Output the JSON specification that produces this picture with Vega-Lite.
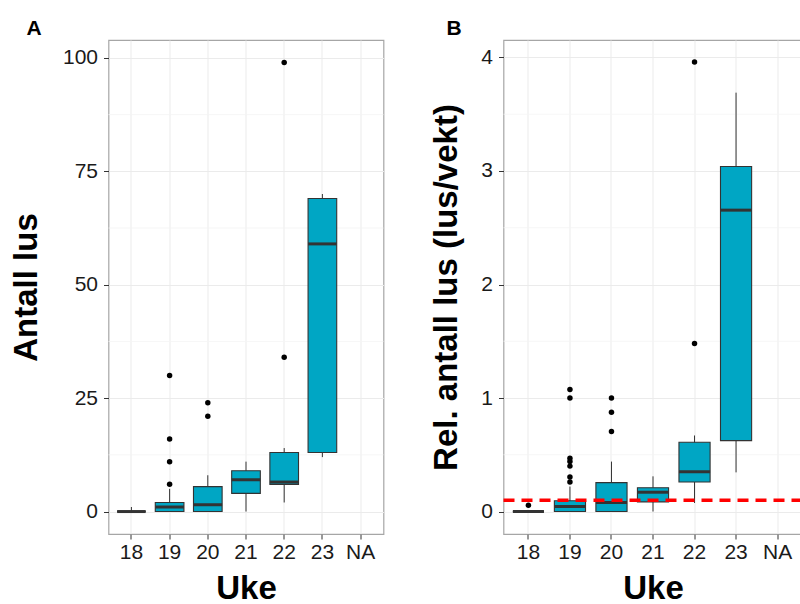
{
  "$schema": "https://vega.github.io/schema/vega-lite/v6.json",
  "autosize": "none",
  "padding": {"left": 108.5, "top": 40, "right": 691.5, "bottom": 564},
  "background": "white",
  "bounds": "flush",
  "spacing": 120,
  "datasets": {
    "boxA": [
      {"uke": "18", "lower": 0, "q1": 0, "median": 0, "q3": 0, "upper": 1},
      {"uke": "19", "lower": 0, "q1": 0, "median": 1, "q3": 2, "upper": 5},
      {"uke": "20", "lower": 0, "q1": 0, "median": 1.5, "q3": 5.5, "upper": 8},
      {"uke": "21", "lower": 0, "q1": 4, "median": 7, "q3": 9, "upper": 11},
      {"uke": "22", "lower": 2, "q1": 6, "median": 6.5, "q3": 13, "upper": 14},
      {"uke": "23", "lower": 12, "q1": 13, "median": 59, "q3": 69, "upper": 70}
    ],
    "outA": [
      {"uke": "19", "value": 6}, {"uke": "19", "value": 11}, {"uke": "19", "value": 16}, {"uke": "19", "value": 30},
      {"uke": "20", "value": 21}, {"uke": "20", "value": 24},
      {"uke": "22", "value": 34}, {"uke": "22", "value": 99}
    ],
    "minorA": [{"v": 12.5}, {"v": 37.5}, {"v": 62.5}, {"v": 87.5}],
    "boxB": [
      {"uke": "18", "lower": 0, "q1": 0, "median": 0, "q3": 0, "upper": 0},
      {"uke": "19", "lower": 0, "q1": 0, "median": 0.045, "q3": 0.095, "upper": 0.22},
      {"uke": "20", "lower": 0, "q1": 0, "median": 0.08, "q3": 0.255, "upper": 0.44},
      {"uke": "21", "lower": 0, "q1": 0.085, "median": 0.17, "q3": 0.21, "upper": 0.31},
      {"uke": "22", "lower": 0.075, "q1": 0.26, "median": 0.35, "q3": 0.61, "upper": 0.67},
      {"uke": "23", "lower": 0.345, "q1": 0.625, "median": 2.655, "q3": 3.04, "upper": 3.69}
    ],
    "outB": [
      {"uke": "18", "value": 0.055},
      {"uke": "19", "value": 0.26}, {"uke": "19", "value": 0.305}, {"uke": "19", "value": 0.4}, {"uke": "19", "value": 0.44}, {"uke": "19", "value": 0.47}, {"uke": "19", "value": 1.0}, {"uke": "19", "value": 1.075},
      {"uke": "20", "value": 0.705}, {"uke": "20", "value": 0.875}, {"uke": "20", "value": 1.0},
      {"uke": "22", "value": 1.48}, {"uke": "22", "value": 3.96}
    ],
    "minorB": [{"v": 0.5}, {"v": 1.5}, {"v": 2.5}, {"v": 3.5}],
    "threshold": [{"grense": 0.1}]
  },
  "hconcat": [
    {
      "width": 275,
      "height": 494,
      "title": {"text": "A", "anchor": "start", "frame": "group", "dx": -82, "offset": -16, "fontSize": 21, "fontWeight": "bold", "baseline": "alphabetic", "color": "black"},
      "layer": [
        {
          "data": {"name": "minorA"},
          "mark": {"type": "rule", "color": "#f4f4f4", "strokeWidth": 0.8},
          "encoding": {
            "y": {"field": "v", "type": "quantitative", "scale": {"domain": [-4.95, 103.95], "nice": false, "zero": false}}
          }
        },
        {
          "data": {"name": "boxA"},
          "mark": {"type": "rule", "color": "#333333", "strokeWidth": 1},
          "encoding": {
            "x": {"field": "uke", "type": "nominal", "scale": {"domain": ["18", "19", "20", "21", "22", "23", "NA"], "paddingInner": 0, "paddingOuter": 0.1},
                  "axis": {"title": "Uke", "grid": true, "bandPosition": 0.5}},
            "y": {"field": "lower", "type": "quantitative", "scale": {"domain": [-4.95, 103.95], "nice": false, "zero": false},
                  "axis": {"title": "Antall lus", "values": [0, 25, 50, 75, 100], "format": "d", "titleX": -72, "titleY": 247}},
            "y2": {"field": "upper"}
          }
        },
        {
          "data": {"name": "boxA"},
          "mark": {"type": "bar", "fill": "#00A6C4", "stroke": "#333333", "strokeWidth": 1.1, "width": {"band": 0.75}},
          "encoding": {
            "x": {"field": "uke", "type": "nominal"},
            "y": {"field": "q1", "type": "quantitative"},
            "y2": {"field": "q3"}
          }
        },
        {
          "data": {"name": "boxA"},
          "mark": {"type": "tick", "color": "#333333", "thickness": 3, "size": 28.6, "opacity": 1},
          "encoding": {
            "x": {"field": "uke", "type": "nominal"},
            "y": {"field": "median", "type": "quantitative"}
          }
        },
        {
          "data": {"name": "outA"},
          "mark": {"type": "point", "filled": true, "color": "black", "size": 30, "opacity": 1},
          "encoding": {
            "x": {"field": "uke", "type": "nominal"},
            "y": {"field": "value", "type": "quantitative"}
          }
        }
      ]
    },
    {
      "width": 299,
      "height": 494,
      "title": {"text": "B", "anchor": "start", "frame": "group", "dx": -57, "offset": -16, "fontSize": 21, "fontWeight": "bold", "baseline": "alphabetic", "color": "black"},
      "layer": [
        {
          "data": {"name": "minorB"},
          "mark": {"type": "rule", "color": "#f4f4f4", "strokeWidth": 0.8},
          "encoding": {
            "y": {"field": "v", "type": "quantitative", "scale": {"domain": [-0.198, 4.154], "nice": false, "zero": false}}
          }
        },
        {
          "data": {"name": "boxB"},
          "mark": {"type": "rule", "color": "#333333", "strokeWidth": 1},
          "encoding": {
            "x": {"field": "uke", "type": "nominal", "scale": {"domain": ["18", "19", "20", "21", "22", "23", "NA"], "paddingInner": 0, "paddingOuter": 0.1},
                  "axis": {"title": "Uke", "grid": true, "bandPosition": 0.5}},
            "y": {"field": "lower", "type": "quantitative", "scale": {"domain": [-0.198, 4.154], "nice": false, "zero": false},
                  "axis": {"title": "Rel. antall lus (lus/vekt)", "values": [0, 1, 2, 3, 4], "format": "d", "titleX": -47, "titleY": 247}},
            "y2": {"field": "upper"}
          }
        },
        {
          "data": {"name": "boxB"},
          "mark": {"type": "bar", "fill": "#00A6C4", "stroke": "#333333", "strokeWidth": 1.1, "width": {"band": 0.75}},
          "encoding": {
            "x": {"field": "uke", "type": "nominal"},
            "y": {"field": "q1", "type": "quantitative"},
            "y2": {"field": "q3"}
          }
        },
        {
          "data": {"name": "boxB"},
          "mark": {"type": "tick", "color": "#333333", "thickness": 3, "size": 31.1, "opacity": 1},
          "encoding": {
            "x": {"field": "uke", "type": "nominal"},
            "y": {"field": "median", "type": "quantitative"}
          }
        },
        {
          "data": {"name": "outB"},
          "mark": {"type": "point", "filled": true, "color": "black", "size": 30, "opacity": 1},
          "encoding": {
            "x": {"field": "uke", "type": "nominal"},
            "y": {"field": "value", "type": "quantitative"}
          }
        },
        {
          "data": {"name": "threshold"},
          "mark": {"type": "rule", "color": "#FF0000", "strokeWidth": 3.5, "strokeDash": [11, 7]},
          "encoding": {
            "y": {"field": "grense", "type": "quantitative"}
          }
        }
      ]
    }
  ],
  "config": {
    "font": "Liberation Sans",
    "view": {"stroke": "#a6a6a6", "strokeWidth": 1.2},
    "title": {"font": "Liberation Sans"},
    "axis": {
      "labelFont": "Liberation Sans",
      "labelFontSize": 21,
      "labelColor": "#1a1a1a",
      "tickColor": "#333333",
      "tickSize": 5,
      "domain": false,
      "gridColor": "#ebebeb",
      "gridWidth": 1,
      "titleFont": "Liberation Sans",
      "titleFontSize": 33,
      "titleFontWeight": "bold",
      "titleColor": "black"
    },
    "axisX": {"labelAngle": 0, "labelPadding": 2.5, "titleY": 64, "titleBaseline": "alphabetic"},
    "axisY": {"labelPadding": 6, "titleBaseline": "alphabetic", "titleAngle": -90, "titleAlign": "center"}
  }
}
